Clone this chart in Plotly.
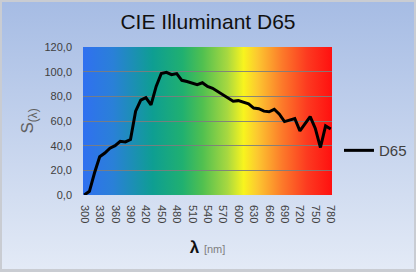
import base64
import plotly.graph_objects as go

# ---- data ----
wavelength_nm = [300, 310, 320, 330, 340, 350, 360, 370, 380, 390,
                 400, 410, 420, 430, 440, 450, 460, 470, 480, 490,
                 500, 510, 520, 530, 540, 550, 560, 570, 580, 590,
                 600, 610, 620, 630, 640, 650, 660, 670, 680, 690,
                 700, 710, 720, 730, 740, 750, 760, 770, 780]
d65_values = [0, 3, 18, 31, 34, 38, 40, 43.5, 43, 45,
              68, 77, 79, 73, 88, 98.5, 99.5, 97.6, 98.4, 93,
              92, 90.5, 89.5, 91, 88, 86.5, 84, 81.5, 79, 76,
              76.5, 75.5, 74, 70.5, 70, 68, 67.5, 69.5, 65.5, 59.5,
              61, 62, 52, 57.5, 63.5, 54, 38.5, 56, 53.5]
series_name = "D65"
x_tick_values = list(range(300, 781, 30))
x_tick_labels = [str(v) for v in x_tick_values]
y_tick_values = [0, 20, 40, 60, 80, 100, 120]
y_tick_labels = ["0,0", "20,0", "40,0", "60,0", "80,0", "100,0", "120,0"]

W, H = 416, 272
ML, MR, MT, MB = 83, 84, 47, 77
PW, PH = W - ML - MR, H - MT - MB


def svg_uri(svg):
    return "data:image/svg+xml;base64," + base64.b64encode(svg.encode()).decode()


paper_svg = f"""<svg xmlns='http://www.w3.org/2000/svg' width='{W}' height='{H}' viewBox='0 0 {W} {H}' preserveAspectRatio='none'>
<defs><linearGradient id='g' x1='0' y1='0' x2='0' y2='1'>
<stop offset='0' stop-color='#a6bce4'/><stop offset='1' stop-color='#e3eaf6'/>
</linearGradient></defs>
<rect x='0' y='0' width='{W}' height='{H}' fill='#c9ccd2'/>
<rect x='2' y='2' width='{W-4}' height='{H-5}' fill='url(#g)'/>
</svg>"""

spec_stops = [(0.00, '#3070f0'), (0.12, '#2a80d8'), (0.28, '#0e9e92'),
              (0.40, '#20b070'), (0.48, '#50c050'), (0.58, '#a8d840'),
              (0.645, '#f8f41e'), (0.70, '#fcc830'), (0.80, '#fc7a2a'),
              (0.90, '#fc3a20'), (1.00, '#ff1010')]
stops = "".join(f"<stop offset='{o}' stop-color='{c}'/>" for o, c in spec_stops)
spec_svg = f"""<svg xmlns='http://www.w3.org/2000/svg' width='{PW}' height='{PH}' viewBox='0 0 {PW} {PH}' preserveAspectRatio='none'>
<defs><linearGradient id='s' x1='0' y1='0' x2='1' y2='0'>{stops}</linearGradient></defs>
<rect x='0' y='0' width='{PW}' height='{PH}' fill='url(#s)'/>
</svg>"""

fig = go.Figure()
fig.add_trace(go.Scatter(
    x=wavelength_nm, y=d65_values, mode="lines", name=series_name,
    line=dict(color="black", width=3), showlegend=True))

fig.update_layout(
    width=W, height=H, autosize=False,
    margin=dict(l=ML, r=MR, t=MT, b=MB, pad=0, autoexpand=False),
    paper_bgcolor="rgba(0,0,0,0)", plot_bgcolor="rgba(0,0,0,0)",
    font=dict(family="Liberation Sans, Arial, sans-serif", color="#404040"),
    title=dict(text="CIE Illuminant D65", x=0.5, xanchor="center",
               y=1 - 22 / H, yanchor="middle",
               font=dict(size=21, color="#111111")),
    images=[
        dict(source=svg_uri(paper_svg), xref="paper", yref="paper",
             x=-ML / PW, y=1 + MT / PH, sizex=W / PW, sizey=H / PH,
             xanchor="left", yanchor="top", sizing="stretch", layer="below"),
        dict(source=svg_uri(spec_svg), xref="paper", yref="paper",
             x=0, y=1, sizex=1, sizey=1, xanchor="left", yanchor="top",
             sizing="stretch", layer="below"),
    ],
    legend=dict(x=1.028, y=0.30, xanchor="left", yanchor="middle",
                bgcolor="rgba(0,0,0,0)", borderwidth=0,
                font=dict(size=15, color="#404040")),
)

fig.update_xaxes(
    range=[297.5, 782.5], tickmode="array", tickvals=x_tick_values,
    ticktext=x_tick_labels, tickangle=90, ticks="", showgrid=False,
    zeroline=False, showline=False, tickfont=dict(size=11, color="#404040"),
    ticklabelstandoff=9,
    title=dict(text="<b>λ</b> <span style='font-size:11px;color:#7f7f7f'>[nm]</span>",
               font=dict(size=17, color="#111111"), standoff=18))

fig.update_yaxes(
    range=[0, 120], tickmode="array", tickvals=y_tick_values,
    ticktext=y_tick_labels, ticks="", showgrid=True,
    gridcolor="rgba(125,125,125,0.9)", gridwidth=1, zeroline=False,
    showline=False, tickfont=dict(size=11, color="#404040"), ticklabelstandoff=10,
    title=dict(text="S<sub>(λ)</sub>", font=dict(size=17, color="#606060"),
               standoff=6))

fig.write_html("out.html")
